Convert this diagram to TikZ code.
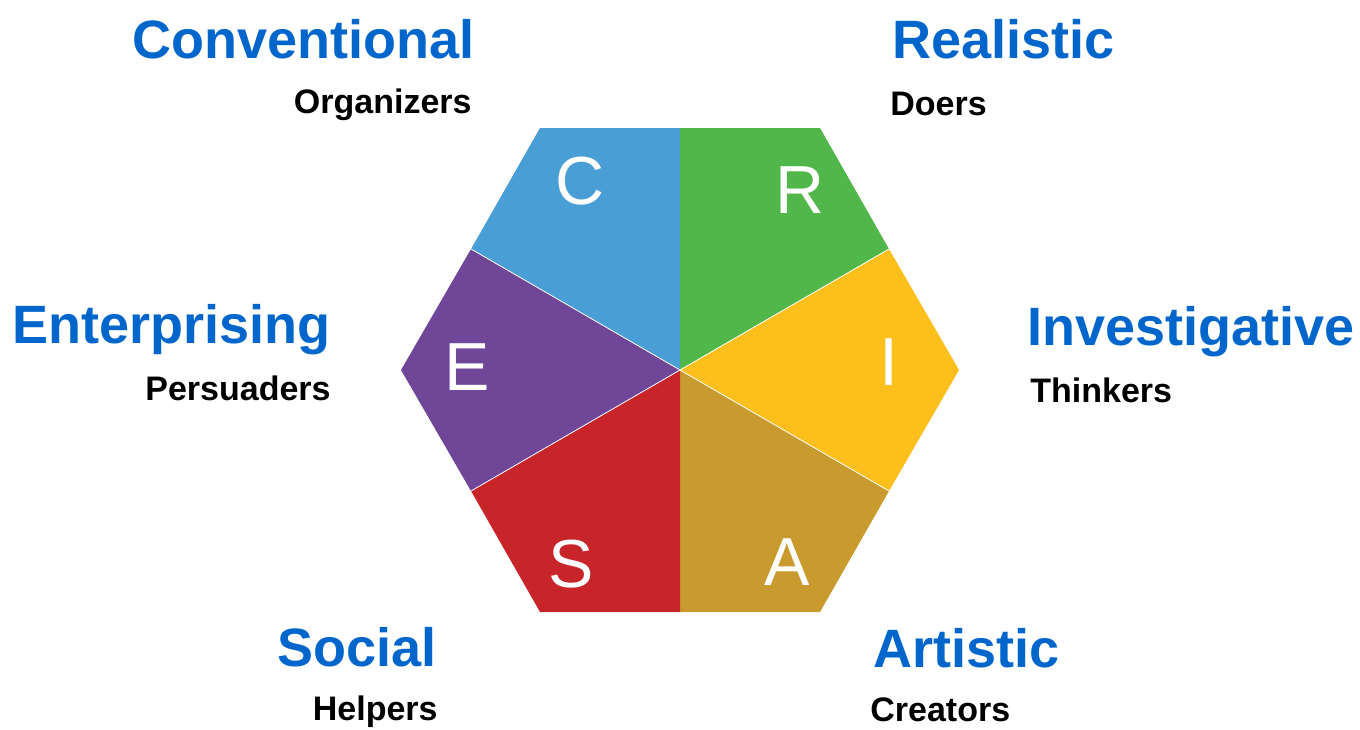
\documentclass[tikz,border=0pt]{standalone}
\usepackage{fontspec}
\setmainfont{Liberation Sans}
\definecolor{cblue}{HTML}{4A9ED6}
\definecolor{cgreen}{HTML}{52B74A}
\definecolor{cyellow}{HTML}{FDBF1B}
\definecolor{cgold}{HTML}{C99A2E}
\definecolor{cred}{HTML}{C8252A}
\definecolor{cpurple}{HTML}{6F4698}
\definecolor{headblue}{HTML}{0066CC}
\begin{document}
\begin{tikzpicture}[x=0.5pt,y=-0.5pt,
  head/.style={inner sep=0pt, text=headblue, font=\fontsize{27}{27}\selectfont\bfseries},
  sub/.style={inner sep=0pt, text=black, font=\fontsize{17}{17}\selectfont\bfseries},
  letter/.style={inner sep=0pt, text=white, font=\fontsize{34}{34}\selectfont},
  wedge/.style={draw=white, line width=0.4pt, line join=round}]
\useasboundingbox (0,0) rectangle (1360,729);
% hexagon points
\coordinate (O) at (680,370);
\coordinate (Tm) at (680,128);
\coordinate (Tl) at (540,128);
\coordinate (Tr) at (820,128);
\coordinate (Ul) at (471,249);
\coordinate (Ur) at (889,249);
\coordinate (L) at (401,370);
\coordinate (R) at (959,370);
\coordinate (Dl) at (471,491);
\coordinate (Dr) at (889,491);
\coordinate (Bl) at (540,612);
\coordinate (Br) at (820,612);
\coordinate (Bm) at (680,612);
% wedges
\fill[cblue] (O) -- (Tm) -- (Tl) -- (Ul) -- cycle;
\fill[cgreen] (O) -- (Tm) -- (Tr) -- (Ur) -- cycle;
\fill[cyellow] (O) -- (Ur) -- (R) -- (Dr) -- cycle;
\fill[cgold] (O) -- (Dr) -- (Br) -- (Bm) -- cycle;
\fill[cred] (O) -- (Bm) -- (Bl) -- (Dl) -- cycle;
\fill[cpurple] (O) -- (Dl) -- (L) -- (Ul) -- cycle;
\draw[wedge] (O) -- (Ul);
\draw[wedge] (O) -- (Ur);
\draw[wedge] (O) -- (Dl);
\draw[wedge] (O) -- (Dr);
% letters
\node[letter] (lc) at (580,181) {C};
\node[letter] (lr) at (800,190) {R};
\node[letter] (li) at (889,362) {I};
\node[letter] (la) at (787,562) {A};
\node[letter] (ls) at (571,564) {S};
\node[letter] (le) at (467,367) {E};
% headings
\node[head, anchor=base east] (hc) at (475,58) {Conventional};
\node[sub, anchor=base east] (sc) at (472,113) {Organizers};
\node[head, anchor=base west] (hr) at (892,58) {Realistic};
\node[sub, anchor=base west] (sr) at (890,115) {Doers};
\node[head, anchor=base east] (he) at (331,343) {Enterprising};
\node[sub, anchor=base east] (se) at (331,400) {Persuaders};
\node[head, anchor=base west] (hi) at (1027,345) {Investigative};
\node[sub, anchor=base west] (si) at (1030,402) {Thinkers};
\node[head, anchor=base east] (hs) at (437,666) {Social};
\node[sub, anchor=base east] (ss) at (438,720) {Helpers};
\node[head, anchor=base west] (ha) at (873,667) {Artistic};
\node[sub, anchor=base west] (sa) at (870,721) {Creators};
\end{tikzpicture}
\end{document}
